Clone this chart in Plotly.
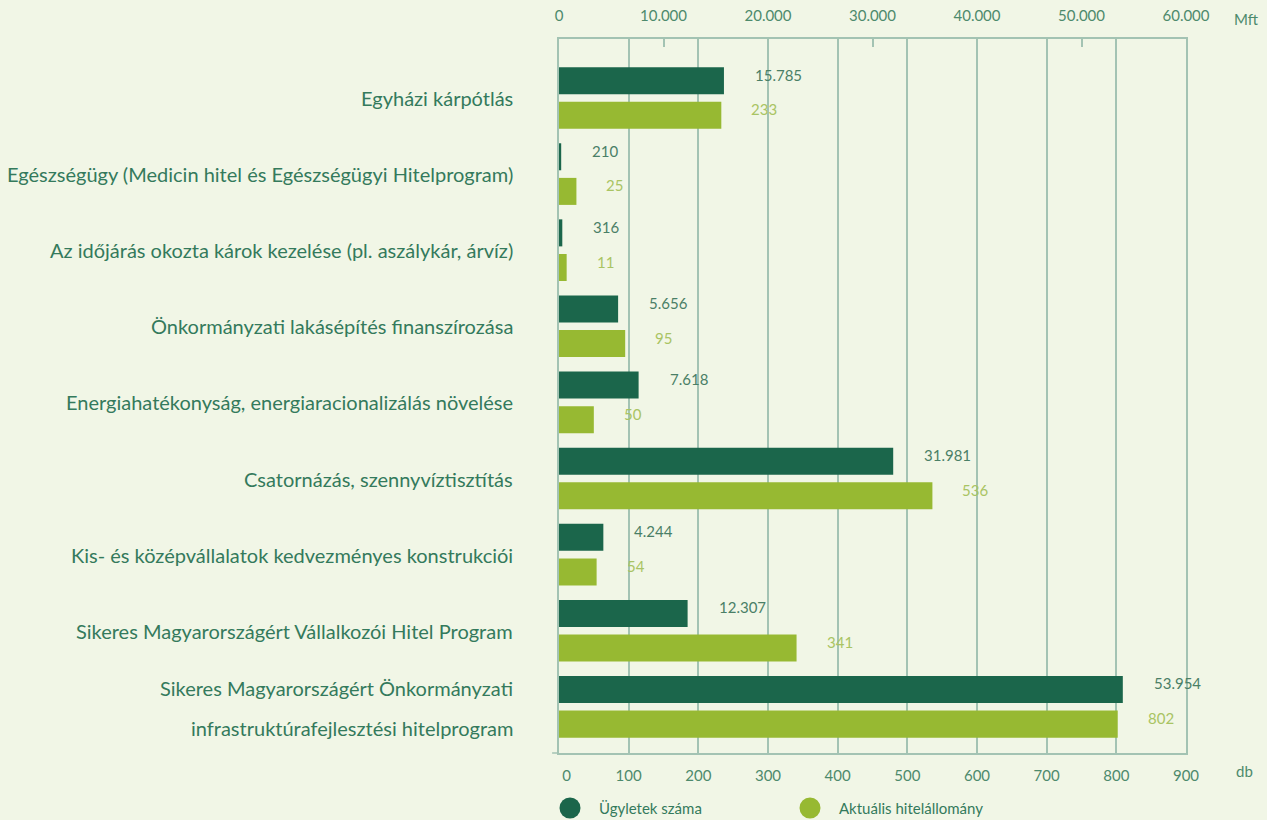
import plotly.graph_objects as go

categories = [
    "Egyházi kárpótlás",
    "Egészségügy (Medicin hitel és Egészségügyi Hitelprogram)",
    "Az időjárás okozta károk kezelése (pl. aszálykár, árvíz)",
    "Önkormányzati lakásépítés finanszírozása",
    "Energiahatékonyság, energiaracionalizálás növelése",
    "Csatornázás, szennyvíztisztítás",
    "Kis- és középvállalatok kedvezményes konstrukciói",
    "Sikeres Magyarországért Vállalkozói Hitel Program",
    "Sikeres Magyarországért Önkormányzati<br>infrastruktúrafejlesztési hitelprogram",
]
mft_values = [15785, 210, 316, 5656, 7618, 31981, 4244, 12307, 53954]
db_values = [233, 25, 11, 95, 50, 536, 54, 341, 802]
mft_ticks = [0, 10000, 20000, 30000, 40000, 50000, 60000]
db_ticks = [0, 100, 200, 300, 400, 500, 600, 700, 800, 900]
legend_names = ["Ügyletek száma", "Aktuális hitelállomány"]


def hu(v):
    return f"{v:,}".replace(",", ".")


DARK = "#1b664b"
LIGHT = "#97b932"
BG = "#f1f6e6"
GRID = "#a3c3b3"
TXT = "#347a5c"
TICK = "#4d8a6c"
FONT = "Lato"

pos = list(range(len(categories)))

fig = go.Figure()
fig.add_trace(go.Bar(
    y=pos, x=mft_values, orientation="h", xaxis="x2", yaxis="y",
    marker=dict(color=DARK, line=dict(width=0)), width=0.355, offset=-0.405,
    name=legend_names[0], showlegend=False, hoverinfo="x",
))
fig.add_trace(go.Bar(
    y=pos, x=db_values, orientation="h", xaxis="x", yaxis="y",
    marker=dict(color=LIGHT, line=dict(width=0)), width=0.355, offset=0.05,
    name=legend_names[1], showlegend=False, hoverinfo="x",
))

annotations = []
# category labels
for i, c in enumerate(categories):
    lines = c.split("<br>")
    if len(lines) == 1:
        annotations.append(dict(x=0, xref="paper", y=i, yref="y", text=c,
                                xanchor="right", yanchor="middle", xshift=-44,
                                showarrow=False, font=dict(family=FONT, size=20, color=TXT)))
    else:
        for j, ln in enumerate(lines):
            annotations.append(dict(x=0, xref="paper", y=i + (-0.25 if j == 0 else 0.28), yref="y",
                                    text=ln, xanchor="right", yanchor="middle", xshift=-44,
                                    showarrow=False, font=dict(family=FONT, size=20, color=TXT)))
# value labels
for i, (m, d) in enumerate(zip(mft_values, db_values)):
    annotations.append(dict(x=m, xref="x2", y=i - 0.2275, yref="y", text=hu(m),
                            xanchor="left", yanchor="middle", xshift=29, yshift=6,
                            showarrow=False, font=dict(family=FONT, size=15, color="#4a7f66")))
    annotations.append(dict(x=d, xref="x", y=i + 0.2275, yref="y", text=hu(d),
                            xanchor="left", yanchor="middle", xshift=28, yshift=6,
                            showarrow=False, font=dict(family=FONT, size=15, color="#a9c463")))
# axis unit labels
annotations.append(dict(x=1, xref="paper", y=1, yref="paper", text="Mft", xanchor="left",
                        yanchor="middle", xshift=46, yshift=20, showarrow=False,
                        font=dict(family=FONT, size=15, color=TICK)))
annotations.append(dict(x=1, xref="paper", y=0, yref="paper", text="db", xanchor="left",
                        yanchor="middle", xshift=48, yshift=-18, showarrow=False,
                        font=dict(family=FONT, size=15, color=TICK)))

shapes = []
# legend
leg_x = [570, 810]
for k, (name, col) in enumerate(zip(legend_names, [DARK, LIGHT])):
    xa = (leg_x[k] - 559) / 627
    shapes.append(dict(type="circle", xref="paper", yref="paper", xsizemode="pixel", ysizemode="pixel",
                       xanchor=xa, yanchor=0, x0=-10.5, x1=10.5, y0=-65.5, y1=-44.5,
                       fillcolor=col, line=dict(width=0)))
    annotations.append(dict(x=xa, xref="paper", y=0, yref="paper", text=name, xanchor="left",
                            yanchor="middle", xshift=27, yshift=-55, showarrow=False,
                            font=dict(family=FONT, size=15, color=TXT)))
# extension of bottom axis line to the left
shapes.append(dict(type="line", xref="paper", yref="paper", x0=-0.011, x1=0, y0=0, y1=0,
                   line=dict(color=GRID, width=1.5)))

db_ticktext = [("\u00a0\u00a0\u00a0\u00a00" if v == 0 else str(v)) for v in db_ticks]

fig.update_layout(
    width=1267, height=820,
    margin=dict(l=559, r=81, t=39, b=67, autoexpand=False),
    paper_bgcolor=BG, plot_bgcolor=BG,
    showlegend=False,
    barmode="overlay",
    font=dict(family=FONT, size=15, color=TICK),
    xaxis=dict(range=[0, 900], tickvals=db_ticks, ticktext=db_ticktext, side="bottom",
               showgrid=True, gridcolor=GRID, gridwidth=1.5, zeroline=False,
               showline=True, linecolor=GRID, linewidth=1.5, ticks="",
               tickfont=dict(family=FONT, size=15, color=TICK), ticklabelstandoff=8,
               automargin=False, fixedrange=True),
    xaxis2=dict(range=[0, 60000], tickvals=mft_ticks, ticktext=[hu(v) for v in mft_ticks],
                overlaying="x", side="top", showgrid=False, zeroline=False,
                showline=True, linecolor=GRID, linewidth=1.5, ticks="inside", ticklen=8,
                tickcolor=GRID, tickwidth=1.5,
                tickfont=dict(family=FONT, size=15, color=TICK), ticklabelstandoff=10,
                automargin=False, fixedrange=True),
    yaxis=dict(range=[8.607, -0.775], showticklabels=False, showgrid=False, zeroline=False,
               showline=True, mirror=True, linecolor=GRID, linewidth=1.5, ticks="",
               automargin=False, fixedrange=True),
    annotations=annotations,
    shapes=shapes,
)

fig.write_html(
    "out.html",
    config={"displayModeBar": False},
    post_script="document.body.style.margin='0';document.body.style.overflow='hidden';"
                "document.documentElement.style.background='" + BG + "';",
)
